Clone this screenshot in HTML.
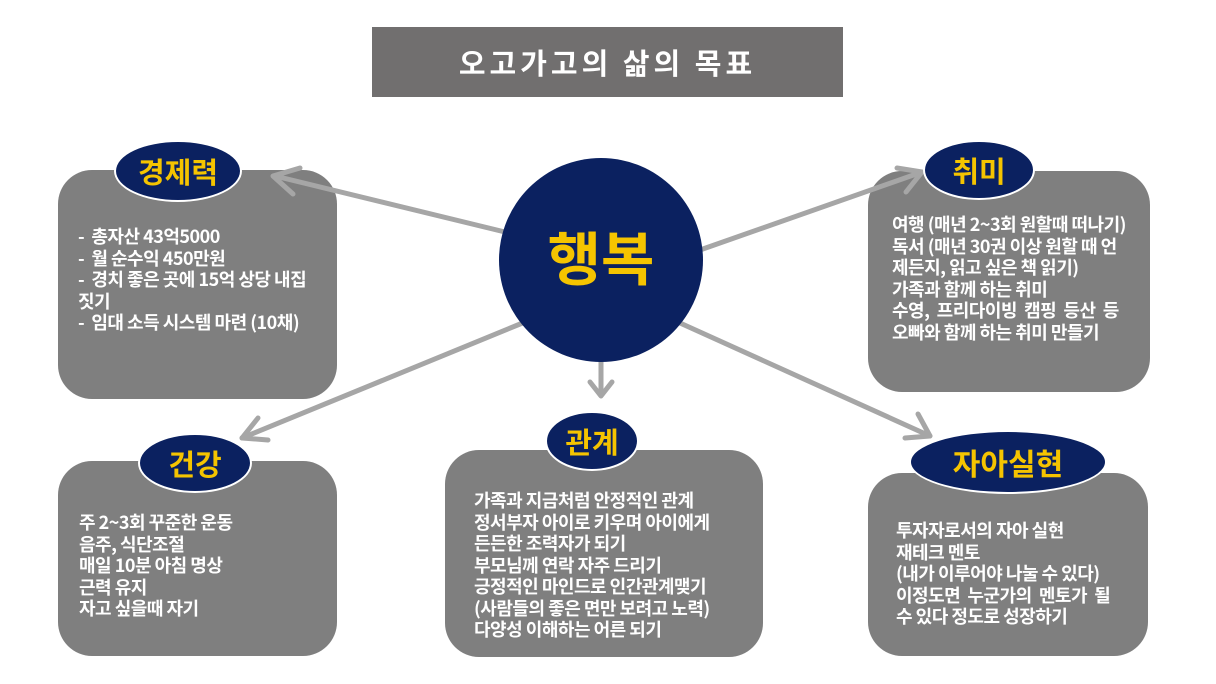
<!DOCTYPE html>
<html><head><meta charset="utf-8"><style>
body{margin:0;width:1216px;height:684px;background:#fff;position:relative;overflow:hidden;font-family:"Liberation Sans","Noto Sans CJK KR",sans-serif}
.box{position:absolute;background:#7f7f7f;border-radius:34px}
.t{position:absolute;color:#fff;font-size:18px;line-height:21.5px;letter-spacing:-0.5px;white-space:nowrap;font-family:"Noto Sans CJK KR",sans-serif;font-weight:700}
.el{position:absolute;background:#0b2160;border:2px solid #fff;border-radius:50%;color:#f5c400;font-family:"Noto Sans CJK KR",sans-serif;font-weight:700;display:flex;align-items:center;justify-content:center;box-sizing:border-box}
svg{position:absolute;left:0;top:0}
</style></head><body>
<div style="position:absolute;left:372px;top:27px;width:471px;height:70px;background:#716f6f;color:#fff;font-family:'Noto Sans CJK KR',sans-serif;font-weight:700;font-size:29px;display:flex;align-items:center;justify-content:center;letter-spacing:4px">오고가고의 삶의 목표</div>

<div class="box" style="left:58px;top:170px;width:279px;height:229px"></div>
<div class="box" style="left:868px;top:171px;width:282px;height:221px"></div>
<div class="box" style="left:58px;top:461px;width:279px;height:195px"></div>
<div class="box" style="left:445px;top:450px;width:318px;height:207px"></div>
<div class="box" style="left:868px;top:473px;width:280px;height:183px"></div>

<svg width="1216" height="684">
<g stroke="#a6a6a6" stroke-width="5" fill="none" stroke-linecap="round" stroke-linejoin="round">
<line x1="505" y1="232" x2="275" y2="176"/><polyline points="300,168 273,176 293,194"/>
<line x1="700" y1="250" x2="922" y2="172"/><polyline points="897,168 922,172 906,192"/>
<line x1="525" y1="322" x2="242" y2="438"/><polyline points="258,418 242,438 268,440"/>
<line x1="601" y1="355" x2="601" y2="395"/><polyline points="590,382 601,396 612,382"/>
<line x1="680" y1="323" x2="930" y2="436"/><polyline points="905,438 930,436 918,414"/>
</g>
<circle cx="601" cy="260" r="102" fill="#0b2160"/>
<text x="601" y="280" text-anchor="middle" fill="#f5c400" font-size="58" font-weight="700" font-family="Noto Sans CJK KR, sans-serif">행복</text>
</svg>

<div class="el" style="left:114px;top:140px;width:128px;height:62px;font-size:29px">경제력</div>
<div class="el" style="left:923px;top:140px;width:112px;height:60px;font-size:29px">취미</div>
<div class="el" style="left:138px;top:433px;width:114px;height:60px;font-size:29px">건강</div>
<div class="el" style="left:545px;top:411px;width:94px;height:60px;font-size:29px">관계</div>
<div class="el" style="left:909px;top:430px;width:198px;height:64px;font-size:30px">자아실현</div>

<div class="t" style="left:78px;top:226px">-&nbsp; 총자산 43억5000<br>-&nbsp; 월 순수익 450만원<br>-&nbsp; 경치 좋은 곳에 15억 상당 내집<br>짓기<br>-&nbsp; 임대 소득 시스템 마련 (10채)</div>
<div class="t" style="left:892px;top:214px">여행 (매년 2~3회 원할때 떠나기)<br>독서 (매년 30권 이상 원할 때 언<br>제든지, 읽고 싶은 책 읽기)<br>가족과 함께 하는 취미<br>수영,&nbsp; 프리다이빙&nbsp; 캠핑&nbsp; 등산&nbsp; 등<br>오빠와 함께 하는 취미 만들기</div>
<div class="t" style="left:79px;top:512px">주 2~3회 꾸준한 운동<br>음주, 식단조절<br>매일 10분 아침 명상<br>근력 유지<br>자고 싶을때 자기</div>
<div class="t" style="left:474px;top:490px">가족과 지금처럼 안정적인 관계<br>정서부자 아이로 키우며 아이에게<br>든든한 조력자가 되기<br>부모님께 연락 자주 드리기<br>긍정적인 마인드로 인간관계맺기<br>(사람들의 좋은 면만 보려고 노력)<br>다양성 이해하는 어른 되기</div>
<div class="t" style="left:896px;top:520px">투자자로서의 자아 실현<br>재테크 멘토<br>(내가 이루어야 나눌 수 있다)<br>이정도면&nbsp; 누군가의&nbsp; 멘토가&nbsp; 될<br>수 있다 정도로 성장하기</div>
</body></html>
